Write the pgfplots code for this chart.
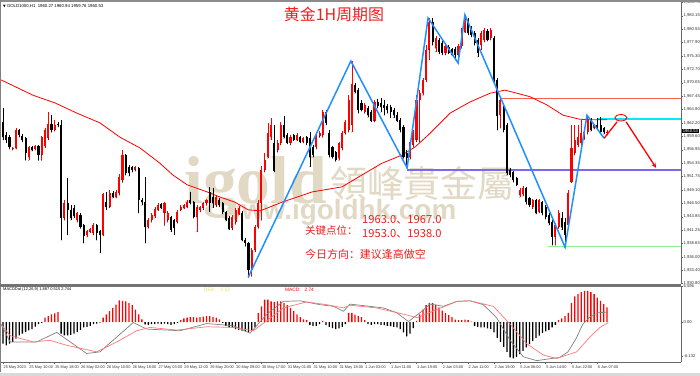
\documentclass[border=0pt]{standalone}
\usepackage{pgfplots}
\pgfplotsset{compat=1.18}
\usepackage{pgfplotstable}
\usepackage{fontspec}
\setmainfont{Liberation Sans}
\newfontfamily\cjk{Noto Sans CJK SC}
\newfontfamily\cjktc{Noto Sans CJK TC}
\newfontfamily\wmserif{Liberation Serif}
\newfontfamily\sym{DejaVu Sans}
\usetikzlibrary{arrows.meta}
\definecolor{wm}{RGB}{226,217,197}
\definecolor{txtred}{RGB}{240,30,30}
\definecolor{zzblue}{RGB}{30,144,255}
\definecolor{hred}{RGB}{250,95,75}
\definecolor{hcyan}{RGB}{0,235,245}
\definecolor{hpurple}{RGB}{123,104,238}
\definecolor{hgreen}{RGB}{144,238,144}
\definecolor{dea}{RGB}{235,225,90}
\definecolor{sig}{RGB}{255,120,120}
\pgfplotsset{candle/.style={only marks, mark=*, mark size=0.1pt, mark options={draw=none, fill=none}}}

\pgfplotstableread{
x o h l c
0 1962.4 1965.1 1958.9 1959.4
1 1959.8 1960.4 1958.3 1958.9
2 1959.4 1959.8 1957.1 1957.5
3 1957.1 1957.5 1956.9 1957.3
4 1957.3 1961.2 1957.1 1960.8
5 1960.8 1961.0 1959.4 1959.8
6 1959.6 1960.0 1958.5 1958.9
7 1959.2 1959.4 1954.9 1956.3
8 1955.5 1957.7 1954.9 1957.5
9 1957.5 1957.7 1956.7 1956.9
10 1957.1 1957.9 1956.9 1957.7
11 1957.7 1957.9 1954.9 1955.9
12 1955.9 1959.6 1954.9 1959.4
13 1957.7 1961.2 1957.3 1960.8
14 1959.2 1964.3 1958.9 1962.0
15 1962.0 1963.7 1960.4 1960.8
16 1960.8 1962.8 1960.6 1961.8
17 1962.0 1962.4 1961.4 1961.8
18 1961.8 1962.8 1939.3 1943.6
19 1943.6 1947.1 1943.2 1946.5
20 1946.5 1951.4 1940.3 1945.2
21 1945.2 1946.1 1943.2 1943.6
22 1945.6 1946.1 1943.6 1944.0
23 1943.2 1944.8 1942.8 1944.6
24 1944.2 1944.6 1941.6 1941.8
25 1942.2 1942.4 1938.7 1940.1
26 1940.3 1941.3 1939.9 1941.1
27 1940.9 1941.6 1940.7 1941.4
28 1940.7 1942.6 1940.3 1942.2
29 1942.2 1942.4 1939.3 1940.7
30 1941.1 1941.3 1936.8 1940.3
31 1940.3 1948.5 1940.1 1948.3
32 1946.7 1948.7 1945.2 1945.8
33 1945.8 1949.1 1945.6 1948.5
34 1948.5 1948.9 1947.5 1947.7
35 1947.7 1949.1 1947.5 1948.7
36 1948.5 1952.2 1948.1 1951.6
37 1951.0 1956.9 1950.6 1955.9
38 1955.9 1956.1 1952.0 1952.4
39 1953.6 1954.0 1951.8 1952.4
40 1953.6 1953.8 1952.6 1953.0
41 1953.0 1953.8 1952.8 1953.6
42 1953.4 1953.6 1944.6 1947.1
43 1947.1 1947.5 1946.1 1946.7
44 1946.7 1951.6 1938.7 1941.8
45 1941.8 1943.6 1941.6 1943.2
46 1943.2 1944.6 1942.8 1944.2
47 1944.0 1945.8 1943.6 1945.4
48 1945.2 1946.5 1945.0 1946.1
49 1946.3 1946.5 1945.4 1945.6
50 1944.6 1946.7 1942.2 1946.5
51 1943.2 1945.0 1942.8 1944.6
52 1943.8 1944.0 1940.9 1941.3
53 1943.2 1943.4 1940.3 1941.6
54 1942.8 1945.2 1942.6 1944.8
55 1945.2 1946.1 1945.0 1945.8
56 1945.6 1946.3 1945.4 1946.1
57 1945.8 1947.1 1945.6 1946.7
58 1947.1 1948.7 1946.3 1946.5
59 1946.7 1946.9 1943.6 1943.8
60 1943.8 1946.1 1940.9 1945.8
61 1945.2 1945.9 1944.8 1945.8
62 1945.6 1946.7 1945.2 1946.5
63 1946.5 1947.3 1946.1 1947.1
64 1948.7 1949.7 1944.8 1946.5
65 1947.7 1949.5 1945.6 1946.5
66 1946.1 1948.1 1945.8 1947.7
67 1947.1 1947.5 1945.8 1946.1
68 1946.5 1946.7 1944.4 1944.8
69 1944.8 1945.0 1943.0 1943.2
70 1943.6 1944.0 1941.3 1941.4
71 1941.6 1944.2 1941.3 1943.8
72 1942.8 1945.6 1942.4 1945.2
73 1944.4 1945.9 1944.2 1945.6
74 1944.6 1945.0 1939.1 1939.3
75 1939.3 1939.7 1938.1 1938.7
76 1938.7 1938.9 1932.0 1933.4
77 1933.4 1937.7 1932.2 1937.4
78 1937.4 1942.2 1937.0 1941.8
79 1941.8 1947.1 1941.6 1946.5
80 1946.5 1953.8 1943.2 1953.0
81 1953.0 1956.3 1952.6 1954.9
82 1955.5 1962.2 1955.3 1960.2
83 1959.4 1963.2 1958.9 1961.8
84 1958.3 1961.8 1952.6 1952.8
85 1956.9 1958.9 1956.5 1958.3
86 1958.3 1962.4 1957.9 1961.8
87 1961.8 1963.5 1959.2 1959.4
88 1959.8 1960.2 1958.1 1958.3
89 1958.3 1959.8 1957.9 1959.4
90 1959.8 1960.0 1958.7 1958.9
91 1958.9 1960.2 1958.7 1959.8
92 1959.4 1959.6 1958.3 1958.5
93 1958.5 1959.4 1958.3 1959.2
94 1959.4 1959.6 1957.9 1958.3
95 1959.2 1960.4 1953.6 1955.5
96 1957.5 1957.9 1955.5 1955.9
97 1957.5 1960.0 1957.1 1959.8
98 1959.6 1960.6 1959.4 1960.2
99 1959.8 1964.7 1959.4 1964.3
100 1964.3 1964.7 1961.8 1962.2
101 1960.2 1960.8 1955.5 1955.9
102 1957.5 1957.7 1955.3 1955.5
103 1956.5 1956.7 1954.7 1954.9
104 1955.3 1958.5 1954.9 1958.3
105 1957.3 1960.6 1956.9 1960.2
106 1960.2 1962.8 1960.0 1962.4
107 1960.8 1967.6 1960.4 1966.7
108 1961.8 1974.3 1960.4 1969.8
109 1969.6 1970.0 1968.0 1968.2
110 1968.6 1969.0 1964.1 1964.7
111 1966.1 1966.7 1964.5 1964.7
112 1964.3 1966.1 1964.1 1965.7
113 1965.1 1965.5 1963.3 1963.7
114 1964.3 1964.7 1962.4 1962.6
115 1962.6 1966.7 1962.4 1966.3
116 1966.3 1966.9 1965.1 1965.5
117 1966.1 1967.1 1964.3 1965.3
118 1965.7 1966.7 1963.7 1965.1
119 1965.5 1965.9 1964.1 1964.7
120 1965.3 1965.7 1963.2 1964.3
121 1964.7 1965.1 1963.2 1963.7
122 1963.7 1964.3 1962.4 1962.6
123 1962.8 1963.2 1960.4 1960.8
124 1961.4 1961.8 1955.3 1955.5
125 1956.3 1956.9 1953.4 1955.3
126 1955.5 1958.9 1955.1 1958.5
127 1957.9 1960.8 1957.5 1960.2
128 1958.9 1967.6 1958.5 1966.7
129 1966.7 1968.6 1958.5 1968.0
130 1968.0 1971.0 1967.6 1970.6
131 1970.6 1977.4 1970.2 1976.5
132 1976.5 1982.7 1974.5 1981.9
133 1981.9 1982.7 1977.4 1978.0
134 1976.8 1979.2 1976.1 1978.8
135 1978.4 1978.8 1975.7 1976.1
136 1977.8 1978.2 1975.5 1975.9
137 1975.9 1977.6 1975.5 1977.2
138 1977.0 1977.4 1975.7 1975.9
139 1976.6 1976.8 1975.3 1975.5
140 1976.6 1977.0 1974.5 1975.5
141 1975.5 1977.6 1973.9 1977.2
142 1977.2 1980.7 1976.8 1980.4
143 1980.0 1983.3 1979.8 1982.3
144 1982.3 1982.7 1979.4 1979.8
145 1980.7 1981.1 1979.0 1979.4
146 1979.8 1980.2 1977.4 1977.8
147 1978.4 1978.8 1975.1 1975.9
148 1977.4 1980.2 1976.5 1979.8
149 1978.4 1980.7 1978.0 1980.4
150 1980.2 1980.5 1978.2 1978.4
151 1978.8 1980.7 1978.4 1980.4
152 1978.8 1979.2 1970.2 1970.6
153 1970.6 1971.0 1960.8 1963.5
154 1963.7 1967.1 1961.2 1966.7
155 1965.1 1965.7 1960.4 1960.8
156 1961.8 1962.2 1952.0 1952.4
157 1953.0 1953.4 1951.6 1952.0
158 1952.6 1952.8 1950.6 1951.0
159 1951.4 1951.6 1949.9 1950.1
160 1948.1 1949.5 1947.7 1949.1
161 1948.3 1949.9 1947.9 1949.5
162 1949.5 1949.7 1946.3 1946.7
163 1947.5 1947.7 1945.8 1946.1
164 1945.8 1947.3 1945.4 1947.1
165 1947.1 1947.3 1944.4 1944.6
166 1944.8 1947.3 1944.6 1947.1
167 1946.7 1946.9 1944.2 1944.6
168 1945.8 1946.1 1943.4 1943.8
169 1944.2 1944.6 1942.2 1942.6
170 1942.8 1943.2 1938.3 1939.9
171 1939.9 1942.6 1938.3 1942.2
172 1941.8 1945.2 1941.6 1944.6
173 1943.6 1944.8 1941.3 1941.8
174 1942.8 1943.6 1937.9 1940.3
175 1942.2 1949.1 1941.8 1948.5
176 1950.6 1961.8 1950.6 1957.3
177 1956.3 1961.8 1955.9 1958.9
178 1957.9 1961.8 1957.5 1959.4
179 1958.3 1962.8 1957.9 1960.2
180 1959.4 1961.2 1959.0 1960.4
181 1960.4 1963.7 1960.0 1962.8
182 1962.6 1963.2 1960.6 1960.8
183 1961.2 1962.0 1961.0 1961.8
184 1961.8 1963.2 1961.0 1961.2
185 1961.8 1963.3 1960.2 1960.4
186 1961.2 1961.4 1960.0 1960.4
187 1960.3 1960.9 1959.8 1960.5
}\candles

\pgfplotstableread{
x h
0 -3.9
1 -4.2
2 -3.9
3 -3.6
4 -3.0
5 -2.4
6 -2.1
7 -1.8
8 -1.5
9 -1.25
10 -0.8
11 -0.36
12 -0.1
13 0.83
14 1.13
15 1.43
16 1.6
17 1.85
18 -2.1
19 -2.4
20 -2.4
21 -2.3
22 -2.1
23 -1.8
24 -1.4
25 -0.95
26 -0.83
27 -0.65
28 -0.36
29 -0.24
30 -0.06
31 0.83
32 1.43
33 2.0
34 2.6
35 3.2
36 4.0
37 3.9
38 3.8
39 3.5
40 3.1
41 2.3
42 1.43
43 0.54
44 -0.4
45 -0.48
46 -0.36
47 -0.36
48 -0.24
49 -0.36
50 -0.24
51 -0.36
52 -0.48
53 -0.36
54 -0.1
55 0.36
56 0.7
57 0.83
58 0.95
59 0.95
60 0.83
61 0.95
62 1.0
63 1.13
64 1.13
65 0.95
66 0.83
67 0.54
68 -0.1
69 -0.65
70 -0.95
71 -0.95
72 -1.25
73 -1.4
74 -1.55
75 -1.67
76 -1.85
77 -1.55
78 -0.95
79 1.7
80 2.9
81 4.1
82 4.1
83 3.8
84 3.7
85 3.8
86 3.8
87 3.5
88 3.1
89 2.6
90 2.0
91 1.43
92 0.95
93 0.54
94 0.36
95 -0.48
96 -0.65
97 -0.65
98 -0.36
99 0.24
100 -0.54
101 -0.83
102 -1.07
103 -1.25
104 -1.13
105 -0.83
106 -0.36
107 1.7
108 1.7
109 1.4
110 1.1
111 0.95
112 0.36
113 -0.36
114 -0.48
115 -0.36
116 -0.36
117 -0.48
118 -0.54
119 -0.65
120 -0.71
121 -0.83
122 -0.95
123 -1.25
124 -1.85
125 -2.6
126 -2.1
127 -1.07
128 0.24
129 1.43
130 2.3
131 3.1
132 3.5
133 3.5
134 3.2
135 2.7
136 2.1
137 1.67
138 1.3
139 0.95
140 0.48
141 0.36
142 0.36
143 0.48
144 0.36
145 0.12
146 -0.65
147 -0.83
148 -0.95
149 -0.95
150 -1.13
151 -1.25
152 -1.85
153 -2.86
154 -3.6
155 -4.5
156 -5.4
157 -6.4
158 -6.6
159 -6.3
160 -5.8
161 -5.2
162 -4.6
163 -4.0
164 -3.45
165 -2.86
166 -2.44
167 -2.0
168 -1.67
169 -1.43
170 -0.95
171 -0.48
172 0.36
173 0.71
174 1.13
175 1.7
176 3.5
177 4.7
178 5.1
179 5.5
180 5.7
181 5.7
182 5.5
183 5.1
184 4.5
185 3.9
186 3.3
187 2.7
}\hist

\begin{document}
\begin{tikzpicture}
\path[use as bounding box, fill=white] (0,0) rectangle (700bp,-376bp);

% watermark
\node[anchor=base west, inner sep=0, text=wm, font={\wmserif\bfseries\fontsize{68}{68}\selectfont}] at (184bp,-203bp) {igold};
\node[anchor=base west, inner sep=0, text=wm, font={\cjktc\fontsize{37}{37}\selectfont}] at (330bp,-197bp) {領峰貴金屬};
\node[anchor=base west, inner sep=0, text=wm, font={\bfseries\fontsize{28}{28}\selectfont}] at (220bp,-219bp) {www.igoldhk.com};

\begin{axis}[
  at={(1bp,-2bp)}, anchor=north west, scale only axis,
  width=680bp, height=282bp,
  xmin=-0.62, xmax=209.9, ymin=1930.70, ymax=1985.83,
  axis x line=none, axis y line*=right,
  axis line style={draw=black!60, line width=0.5bp},
  ytick={1930.80,1933.40,1936.00,1938.65,1941.25,1943.85,1946.50,1949.10,1951.75,1954.35,1956.95,1959.60,1962.20,1964.80,1967.45,1970.05,1972.70,1975.30,1977.90,1980.55,1983.15,1985.75},
  /pgf/number format/assume math mode=true,
  yticklabel={\pgfmathprintnumber[fixed,fixed zerofill,precision=2]{\tick}},
  yticklabel style={font=\fontsize{4.2}{5}\selectfont, text=black!80, inner xsep=0.6bp},
  tick align=outside, major tick length=1.8bp,
  tick style={black!60, line width=0.4bp},
  clip mode=individual,
]
% level lines
\addplot[hred, line width=1.6bp] coordinates {(154.5,1967.0) (209.9,1967.0)};
\addplot[hcyan, line width=1.6bp] coordinates {(184,1963.0) (209.9,1963.0)};
\addplot[hpurple, line width=1.6bp] coordinates {(125,1953.0) (209.9,1953.0)};
\addplot[hgreen, line width=1.6bp] coordinates {(168.7,1938.0) (209.9,1938.0)};
% moving average
\addplot[red, line width=0.8bp] coordinates {(-0.6,1970.6) (9.3,1967.6) (16.1,1966.1) (22.9,1964.1) (30.0,1962.2) (36.2,1959.4) (42.4,1957.3) (48.6,1954.3) (52.6,1952.0) (57.0,1950.1) (63.2,1948.7) (67.2,1947.7) (71.8,1946.7) (75.9,1945.2) (79.6,1945.0) (86.4,1946.7) (95.7,1948.7) (105.0,1949.7) (111.1,1952.0) (117.3,1954.3) (123.5,1955.9) (127.6,1957.5) (131.6,1959.8) (138.4,1964.1) (144.6,1966.3) (150.8,1968.0) (155.4,1968.6) (159.1,1968.0) (163.2,1967.3) (168.4,1965.7) (173.4,1963.7) (178.6,1962.9) (183.9,1962.8) (187.0,1962.8)};
% wicks
\addplot[candle, error bars/.cd, y dir=plus, y explicit, error mark=none, error bar style={draw=red, line width=0.6bp}]
  table[x=x, y expr={\thisrow{c}>=\thisrow{o} ? \thisrow{l} : nan}, y error plus expr={\thisrow{h}-\thisrow{l}}] {\candles};
\addplot[candle, error bars/.cd, y dir=plus, y explicit, error mark=none, error bar style={draw=black, line width=0.6bp}]
  table[x=x, y expr={\thisrow{c}<\thisrow{o} ? \thisrow{l} : nan}, y error plus expr={\thisrow{h}-\thisrow{l}}] {\candles};
% bodies
\addplot[candle, error bars/.cd, y dir=plus, y explicit, error mark=none, error bar style={draw=red, line width=2.1bp}]
  table[x=x, y expr={\thisrow{c}>=\thisrow{o} ? \thisrow{o} : nan}, y error plus expr={max(\thisrow{c}-\thisrow{o},0.15)}] {\candles};
\addplot[candle, error bars/.cd, y dir=plus, y explicit, error mark=none, error bar style={draw=black, line width=2.1bp}]
  table[x=x, y expr={\thisrow{c}<\thisrow{o} ? \thisrow{c} : nan}, y error plus expr={max(\thisrow{o}-\thisrow{c},0.15)}] {\candles};
% zigzag
\addplot[zzblue, line width=1.5bp] coordinates {(75.9,1932.0) (107.7,1974.3) (125.1,1953.4) (131.6,1982.7) (140.9,1973.9) (143.0,1983.3) (174.0,1937.9) (180.8,1963.7) (186.1,1959.2)};
% forecast
\addplot[red, line width=1.3bp] coordinates {(186.1,1959.2) (190.1,1962.4)};
\addplot[red, line width=1.3bp, -{Stealth[length=5bp,width=4.5bp]}] coordinates {(192.9,1962.4) (202.2,1953.4)};
\draw[red, line width=0.9bp] (axis cs:191.3,1963.2) ellipse [x radius=6bp, y radius=3.2bp];
\end{axis}

\begin{axis}[
  at={(1bp,-286bp)}, anchor=north west, scale only axis,
  width=680bp, height=76bp,
  xmin=-0.62, xmax=209.9, ymin=-7.25, ymax=6.6,
  axis x line*=bottom, axis y line*=right,
  axis line style={draw=black!60, line width=0.5bp},
  ytick={-6.132,0,6.596}, yticklabels={-6.132,0.00,6.596},
  yticklabel style={font=\fontsize{4.2}{5}\selectfont, text=black!80, inner xsep=0.6bp},
  xtick={0,8,...,184},
  xticklabels={25 May 2023,25 May 10:00,25 May 18:00,26 May 02:00,26 May 10:00,26 May 18:00,27 May 03:00,29 May 12:00,29 May 20:00,30 May 09:00,30 May 17:00,31 May 01:00,31 May 10:00,31 May 18:00,1 Jun 03:00,1 Jun 11:00,1 Jun 19:00,2 Jun 03:00,2 Jun 11:00,2 Jun 19:00,5 Jun 06:00,5 Jun 14:00,5 Jun 22:00,6 Jun 07:00},
  xticklabel style={anchor=north west, inner xsep=0.4bp, inner ysep=1.5bp, font=\fontsize{3.9}{4}\selectfont, text=black!80},
  tick align=outside, major tick length=1.8bp,
  tick style={black!60, line width=0.4bp},
]
\addplot[ybar, bar width=1.3bp, bar shift=0pt, fill=red, draw=none] table[x=x, y expr={\thisrow{h}>=0 ? \thisrow{h} : nan}] {\hist};
\addplot[ybar, bar width=1.3bp, bar shift=0pt, fill=black, draw=none] table[x=x, y expr={\thisrow{h}<0 ? \thisrow{h} : nan}] {\hist};
\addplot[gray, line width=0.7bp] coordinates {(-0.6,-0.36) (2.2,-3.6) (10.4,-3.6) (16.6,-1.85) (25.9,-5.7) (30.0,-5.4) (40.3,-0.06) (44.5,-1.25) (54.8,-1.55) (63.1,-0.24) (71.3,-0.65) (76.5,-2.0) (81.6,1.43) (86.8,3.8) (92.0,3.9) (98.1,3.2) (102.3,2.9) (105.4,2.0) (107.4,3.3) (110.5,3.1) (117.8,2.6) (121.9,1.73) (125.5,0.12) (129.1,1.73) (132.2,3.3) (136.3,2.9) (140.5,3.8) (144.6,3.9) (148.7,3.2) (152.8,0.83) (157.0,-3.3) (161.1,-6.3) (165.2,-7.0) (172.4,-6.4) (174.9,-5.4) (177.4,-3.0) (179.5,-0.36) (181.7,0.95) (184.3,1.73) (187.4,1.85)};
\addplot[sig, line width=0.7bp] coordinates {(-0.6,-0.36) (2.2,-2.44) (9.4,-3.6) (14.5,-3.3) (19.7,-4.2) (29.0,-5.4) (35.2,-3.6) (41.4,-1.55) (45.5,-0.95) (53.8,-1.43) (63.1,-0.83) (71.3,-0.95) (77.5,-1.55) (81.6,0.24) (86.8,2.6) (94.0,3.7) (100.2,3.2) (105.4,2.6) (107.4,3.1) (115.7,2.6) (124.2,1.43) (128.3,0.83) (134.3,2.3) (140.5,3.8) (144.6,3.9) (151.8,2.9) (157.0,-0.36) (162.1,-3.9) (167.3,-6.0) (171.4,-6.6) (177.6,-5.4) (181.7,-2.7) (184.8,-0.95) (187.4,-0.06)};
\end{axis}

% frame
\fill[black!45] (0,0) rectangle (700bp,-2bp);
\fill[black!50] (0,0) rectangle (1.2bp,-372bp);
\fill[black!55] (0,-284bp) rectangle (681bp,-286.5bp);
\fill[black!15] (0,-373bp) rectangle (700bp,-376bp);

% header texts
\node[anchor=west, inner sep=0, font=\fontsize{4.3}{5}\selectfont] at (3bp,-6.5bp) {{\sym\fontsize{3.5}{4}\selectfont ▼} GOLD1000,H1\ \ 1960.27 1960.94 1959.76 1960.53};
\node[anchor=west, inner sep=0, font=\fontsize{4}{5}\selectfont] at (3bp,-289.5bp) {MACDDat (12,26,9) 1.887 0.515 2.744};
\node[anchor=west, inner sep=0, text=dea, font=\fontsize{4.8}{5}\selectfont] at (204bp,-289.5bp) {DEA:\ \ \ \ 0.52};
\node[anchor=west, inner sep=0, text=red, font=\fontsize{4.8}{5}\selectfont] at (285bp,-289.5bp) {MACD:\ \ \ 2.74};
\node[anchor=west, fill=black, text=white, inner sep=0.6bp, font=\fontsize{4.2}{5}\selectfont] at (682bp,-131.4bp) {1960.53};

% annotations
\node[text=txtred, font={\cjk\fontsize{16}{16}\selectfont}] at (334bp,-14bp) {黄金1H周期图};
\node[anchor=west, inner sep=0, text=txtred, font={\cjk\fontsize{11.2}{12}\selectfont}] at (362bp,-220bp) {1963.0、1967.0};
\node[anchor=west, inner sep=0, text=txtred, font={\cjk\fontsize{10.5}{12}\selectfont}] at (305bp,-231bp) {关键点位：};
\node[anchor=west, inner sep=0, text=txtred, font={\cjk\fontsize{11.2}{12}\selectfont}] at (362bp,-234bp) {1953.0、1938.0};
\node[anchor=west, inner sep=0, text=txtred, font={\cjk\fontsize{11}{12}\selectfont}] at (305bp,-254bp) {今日方向：建议逢高做空};
\end{tikzpicture}
\end{document}
